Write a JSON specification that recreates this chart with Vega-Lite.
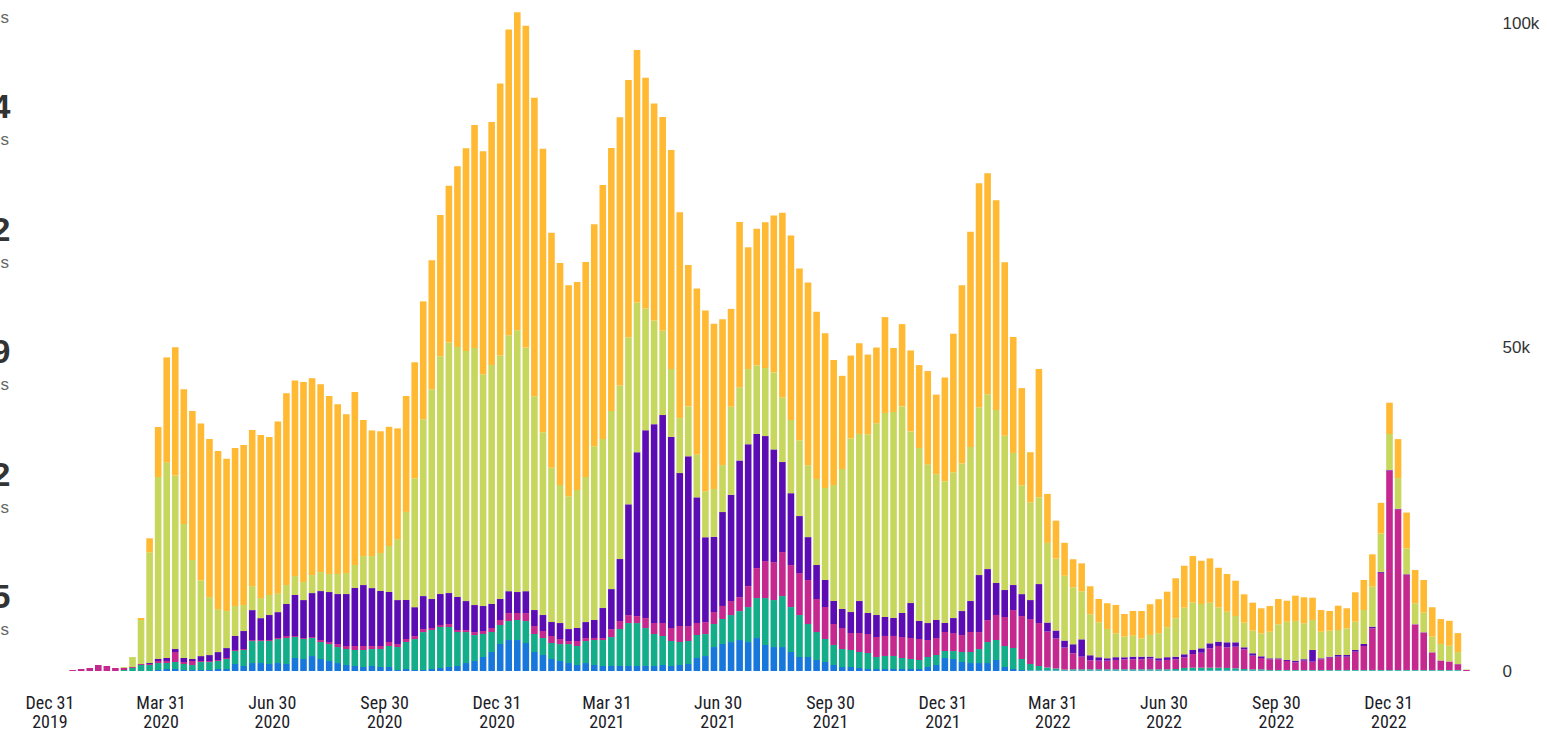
{
"$schema":"https://vega.github.io/schema/vega-lite/v6.json",
"width":1460,"height":662,
"autosize":{"type":"none"},
"padding":{"left":20,"top":9,"right":67,"bottom":63},
"background":"white",
"config":{"view":{"stroke":null},"axis":{"grid":false}},
"resolve":{"scale":{"y":"independent"}},
"layer":[
{
"data":{"values":[
{"week":"2020-01-19","AFR":0,"EMR":0,"WPR":0.15,"SEAR":0,"EUR":0,"AMR":0},
{"week":"2020-01-26","AFR":0,"EMR":0,"WPR":0.31,"SEAR":0,"EUR":0,"AMR":0},
{"week":"2020-02-02","AFR":0,"EMR":0,"WPR":0.46,"SEAR":0,"EUR":0,"AMR":0},
{"week":"2020-02-09","AFR":0,"EMR":0,"WPR":0.93,"SEAR":0,"EUR":0,"AMR":0},
{"week":"2020-02-16","AFR":0,"EMR":0,"WPR":0.77,"SEAR":0,"EUR":0,"AMR":0},
{"week":"2020-02-23","AFR":0,"EMR":0,"WPR":0.46,"SEAR":0,"EUR":0,"AMR":0},
{"week":"2020-03-01","AFR":0,"EMR":0.15,"WPR":0.31,"SEAR":0,"EUR":0.15,"AMR":0},
{"week":"2020-03-08","AFR":0,"EMR":0.46,"WPR":0.15,"SEAR":0,"EUR":1.54,"AMR":0},
{"week":"2020-03-15","AFR":0,"EMR":0.93,"WPR":0.15,"SEAR":0,"EUR":6.79,"AMR":0.31},
{"week":"2020-03-22","AFR":0,"EMR":0.93,"WPR":0.15,"SEAR":0.15,"EUR":17.1,"AMR":2.16},
{"week":"2020-03-29","AFR":0.15,"EMR":1.08,"WPR":0.31,"SEAR":0.31,"EUR":28.1,"AMR":7.72},
{"week":"2020-04-05","AFR":0.31,"EMR":0.93,"WPR":0.31,"SEAR":0.46,"EUR":30.2,"AMR":16.2},
{"week":"2020-04-12","AFR":0.31,"EMR":1.08,"WPR":1.54,"SEAR":0.46,"EUR":26.8,"AMR":19.8},
{"week":"2020-04-19","AFR":0.15,"EMR":0.93,"WPR":0.31,"SEAR":0.62,"EUR":20.7,"AMR":20.8},
{"week":"2020-04-26","AFR":0.15,"EMR":0.77,"WPR":0.62,"SEAR":0.31,"EUR":15.3,"AMR":23.0},
{"week":"2020-05-03","AFR":0.15,"EMR":1.23,"WPR":0.15,"SEAR":0.77,"EUR":11.7,"AMR":24.2},
{"week":"2020-05-10","AFR":0.15,"EMR":1.23,"WPR":0.15,"SEAR":0.93,"EUR":8.95,"AMR":24.4},
{"week":"2020-05-17","AFR":0.31,"EMR":1.23,"WPR":0.15,"SEAR":1.23,"EUR":6.63,"AMR":24.4},
{"week":"2020-05-24","AFR":0.31,"EMR":1.54,"WPR":0.15,"SEAR":1.54,"EUR":5.71,"AMR":23.5},
{"week":"2020-05-31","AFR":1.08,"EMR":2.01,"WPR":0.15,"SEAR":2.16,"EUR":4.63,"AMR":24.4},
{"week":"2020-06-07","AFR":0.77,"EMR":2.47,"WPR":0.15,"SEAR":2.78,"EUR":4.01,"AMR":24.7},
{"week":"2020-06-14","AFR":1.23,"EMR":3.39,"WPR":0.15,"SEAR":4.63,"EUR":3.70,"AMR":24.1},
{"week":"2020-06-21","AFR":1.23,"EMR":3.39,"WPR":0.15,"SEAR":3.39,"EUR":3.09,"AMR":25.2},
{"week":"2020-06-28","AFR":1.08,"EMR":3.55,"WPR":0.15,"SEAR":3.86,"EUR":3.09,"AMR":24.4},
{"week":"2020-07-05","AFR":1.23,"EMR":3.70,"WPR":0.15,"SEAR":4.01,"EUR":2.93,"AMR":26.5},
{"week":"2020-07-12","AFR":1.08,"EMR":4.01,"WPR":0.31,"SEAR":4.94,"EUR":2.93,"AMR":29.6},
{"week":"2020-07-19","AFR":2.01,"EMR":3.24,"WPR":0.15,"SEAR":6.33,"EUR":2.93,"AMR":30.2},
{"week":"2020-07-26","AFR":1.85,"EMR":3.09,"WPR":0.15,"SEAR":5.86,"EUR":2.78,"AMR":30.9},
{"week":"2020-08-02","AFR":2.31,"EMR":2.78,"WPR":0.15,"SEAR":6.79,"EUR":2.78,"AMR":30.4},
{"week":"2020-08-09","AFR":1.85,"EMR":2.62,"WPR":0.31,"SEAR":7.56,"EUR":2.93,"AMR":29.0},
{"week":"2020-08-16","AFR":1.54,"EMR":2.62,"WPR":0.31,"SEAR":7.72,"EUR":2.78,"AMR":27.5},
{"week":"2020-08-23","AFR":1.23,"EMR":2.47,"WPR":0.46,"SEAR":7.72,"EUR":3.09,"AMR":26.2},
{"week":"2020-08-30","AFR":0.93,"EMR":2.47,"WPR":0.46,"SEAR":8.02,"EUR":3.24,"AMR":24.5},
{"week":"2020-09-06","AFR":0.77,"EMR":2.47,"WPR":0.62,"SEAR":8.95,"EUR":3.55,"AMR":26.7},
{"week":"2020-09-13","AFR":0.62,"EMR":2.62,"WPR":0.62,"SEAR":9.41,"EUR":4.47,"AMR":21.0},
{"week":"2020-09-20","AFR":0.77,"EMR":2.62,"WPR":0.46,"SEAR":8.95,"EUR":4.94,"AMR":19.4},
{"week":"2020-09-27","AFR":0.62,"EMR":2.78,"WPR":0.46,"SEAR":8.49,"EUR":5.86,"AMR":18.8},
{"week":"2020-10-04","AFR":0.62,"EMR":3.24,"WPR":0.62,"SEAR":7.72,"EUR":7.10,"AMR":18.4},
{"week":"2020-10-11","AFR":0.15,"EMR":3.55,"WPR":0.46,"SEAR":6.79,"EUR":9.41,"AMR":17.1},
{"week":"2020-10-18","AFR":0.31,"EMR":4.17,"WPR":0.46,"SEAR":6.02,"EUR":13.6,"AMR":17.9},
{"week":"2020-10-25","AFR":0.15,"EMR":4.78,"WPR":0.46,"SEAR":4.47,"EUR":19.9,"AMR":17.9},
{"week":"2020-11-01","AFR":0.15,"EMR":5.86,"WPR":0.46,"SEAR":5.09,"EUR":27.3,"AMR":18.2},
{"week":"2020-11-08","AFR":0.31,"EMR":6.02,"WPR":0.31,"SEAR":4.47,"EUR":32.4,"AMR":19.9},
{"week":"2020-11-15","AFR":0.46,"EMR":6.33,"WPR":0.31,"SEAR":4.78,"EUR":36.7,"AMR":21.8},
{"week":"2020-11-22","AFR":0.62,"EMR":6.17,"WPR":0.46,"SEAR":4.78,"EUR":38.7,"AMR":24.2},
{"week":"2020-11-29","AFR":0.77,"EMR":5.25,"WPR":0.31,"SEAR":5.09,"EUR":38.6,"AMR":27.9},
{"week":"2020-12-06","AFR":1.23,"EMR":4.78,"WPR":0.31,"SEAR":4.47,"EUR":38.6,"AMR":31.3},
{"week":"2020-12-13","AFR":1.54,"EMR":4.01,"WPR":0.46,"SEAR":4.17,"EUR":39.7,"AMR":34.4},
{"week":"2020-12-20","AFR":2.16,"EMR":3.55,"WPR":0.46,"SEAR":3.86,"EUR":35.8,"AMR":34.4},
{"week":"2020-12-27","AFR":2.93,"EMR":3.09,"WPR":0.62,"SEAR":3.70,"EUR":36.9,"AMR":37.5},
{"week":"2021-01-03","AFR":4.17,"EMR":2.93,"WPR":0.77,"SEAR":3.24,"EUR":37.6,"AMR":42.0},
{"week":"2021-01-10","AFR":4.78,"EMR":2.93,"WPR":1.23,"SEAR":3.39,"EUR":39.5,"AMR":47.2},
{"week":"2021-01-17","AFR":4.78,"EMR":3.09,"WPR":1.08,"SEAR":3.24,"EUR":40.4,"AMR":49.1},
{"week":"2021-01-24","AFR":4.32,"EMR":3.39,"WPR":1.23,"SEAR":3.39,"EUR":37.6,"AMR":49.7},
{"week":"2021-01-31","AFR":2.93,"EMR":2.78,"WPR":1.23,"SEAR":2.47,"EUR":33.0,"AMR":46.1},
{"week":"2021-02-07","AFR":2.47,"EMR":2.62,"WPR":1.08,"SEAR":2.47,"EUR":28.2,"AMR":43.8},
{"week":"2021-02-14","AFR":1.85,"EMR":2.47,"WPR":1.08,"SEAR":2.16,"EUR":23.8,"AMR":36.3},
{"week":"2021-02-21","AFR":1.54,"EMR":2.62,"WPR":0.77,"SEAR":2.47,"EUR":21.3,"AMR":34.3},
{"week":"2021-02-28","AFR":1.23,"EMR":2.93,"WPR":0.46,"SEAR":1.85,"EUR":20.5,"AMR":32.6},
{"week":"2021-03-07","AFR":0.93,"EMR":2.93,"WPR":0.77,"SEAR":2.01,"EUR":21.3,"AMR":32.1},
{"week":"2021-03-14","AFR":1.23,"EMR":3.39,"WPR":0.46,"SEAR":2.47,"EUR":22.4,"AMR":33.2},
{"week":"2021-03-21","AFR":0.93,"EMR":3.86,"WPR":0.31,"SEAR":2.78,"EUR":26.8,"AMR":34.3},
{"week":"2021-03-28","AFR":0.77,"EMR":4.01,"WPR":0.31,"SEAR":4.63,"EUR":26.1,"AMR":39.2},
{"week":"2021-04-04","AFR":0.77,"EMR":4.47,"WPR":1.23,"SEAR":6.17,"EUR":27.5,"AMR":40.6},
{"week":"2021-04-11","AFR":0.77,"EMR":5.71,"WPR":1.23,"SEAR":9.57,"EUR":26.8,"AMR":41.4},
{"week":"2021-04-18","AFR":0.77,"EMR":6.63,"WPR":1.23,"SEAR":17.1,"EUR":25.8,"AMR":39.7},
{"week":"2021-04-25","AFR":0.77,"EMR":6.63,"WPR":1.08,"SEAR":25.3,"EUR":23.1,"AMR":39.0},
{"week":"2021-05-02","AFR":0.77,"EMR":5.86,"WPR":1.54,"SEAR":29.0,"EUR":18.8,"AMR":35.6},
{"week":"2021-05-09","AFR":0.77,"EMR":4.94,"WPR":1.70,"SEAR":30.7,"EUR":16.0,"AMR":33.5},
{"week":"2021-05-16","AFR":0.93,"EMR":4.47,"WPR":2.01,"SEAR":32.1,"EUR":13.0,"AMR":33.0},
{"week":"2021-05-23","AFR":0.77,"EMR":3.86,"WPR":2.01,"SEAR":29.5,"EUR":10.5,"AMR":33.8},
{"week":"2021-05-30","AFR":0.93,"EMR":3.55,"WPR":2.47,"SEAR":23.6,"EUR":8.49,"AMR":31.8},
{"week":"2021-06-06","AFR":1.08,"EMR":3.55,"WPR":2.31,"SEAR":26.2,"EUR":7.72,"AMR":21.8},
{"week":"2021-06-13","AFR":2.01,"EMR":3.55,"WPR":1.85,"SEAR":19.4,"EUR":6.63,"AMR":25.6},
{"week":"2021-06-20","AFR":2.31,"EMR":3.39,"WPR":1.85,"SEAR":13.1,"EUR":7.10,"AMR":27.9},
{"week":"2021-06-27","AFR":3.70,"EMR":3.55,"WPR":1.85,"SEAR":11.6,"EUR":7.41,"AMR":25.5},
{"week":"2021-07-04","AFR":4.17,"EMR":3.86,"WPR":2.01,"SEAR":14.5,"EUR":7.25,"AMR":22.5},
{"week":"2021-07-11","AFR":4.47,"EMR":4.17,"WPR":2.16,"SEAR":16.4,"EUR":13.6,"AMR":15.1},
{"week":"2021-07-18","AFR":4.78,"EMR":4.47,"WPR":2.16,"SEAR":21.1,"EUR":11.3,"AMR":25.5},
{"week":"2021-07-25","AFR":4.47,"EMR":5.40,"WPR":3.24,"SEAR":21.9,"EUR":11.6,"AMR":18.8},
{"week":"2021-08-01","AFR":5.09,"EMR":6.17,"WPR":4.63,"SEAR":20.7,"EUR":10.6,"AMR":21.1},
{"week":"2021-08-08","AFR":4.01,"EMR":7.25,"WPR":5.71,"SEAR":19.3,"EUR":10.5,"AMR":22.5},
{"week":"2021-08-15","AFR":3.70,"EMR":7.25,"WPR":5.86,"SEAR":17.4,"EUR":11.9,"AMR":24.2},
{"week":"2021-08-22","AFR":3.70,"EMR":7.87,"WPR":6.79,"SEAR":13.9,"EUR":10.0,"AMR":28.5},
{"week":"2021-08-29","AFR":2.93,"EMR":6.94,"WPR":6.48,"SEAR":11.1,"EUR":11.3,"AMR":28.5},
{"week":"2021-09-05","AFR":2.16,"EMR":6.48,"WPR":6.48,"SEAR":8.80,"EUR":11.7,"AMR":26.5},
{"week":"2021-09-12","AFR":2.16,"EMR":5.09,"WPR":6.79,"SEAR":6.63,"EUR":11.1,"AMR":28.2},
{"week":"2021-09-19","AFR":1.70,"EMR":4.32,"WPR":5.09,"SEAR":5.25,"EUR":13.3,"AMR":25.8},
{"week":"2021-09-26","AFR":1.39,"EMR":3.55,"WPR":4.94,"SEAR":4.17,"EUR":14.2,"AMR":23.9},
{"week":"2021-10-03","AFR":0.93,"EMR":3.09,"WPR":3.24,"SEAR":3.55,"EUR":17.9,"AMR":19.3},
{"week":"2021-10-10","AFR":0.62,"EMR":2.78,"WPR":3.24,"SEAR":2.93,"EUR":21.6,"AMR":14.4},
{"week":"2021-10-17","AFR":0.62,"EMR":2.62,"WPR":2.62,"SEAR":3.24,"EUR":26.8,"AMR":12.8},
{"week":"2021-10-24","AFR":0.46,"EMR":2.47,"WPR":2.93,"SEAR":4.94,"EUR":25.8,"AMR":14.0},
{"week":"2021-10-31","AFR":0.31,"EMR":2.47,"WPR":2.93,"SEAR":3.24,"EUR":27.6,"AMR":12.3},
{"week":"2021-11-07","AFR":0.31,"EMR":1.85,"WPR":3.09,"SEAR":3.39,"EUR":29.6,"AMR":11.7},
{"week":"2021-11-14","AFR":0.31,"EMR":2.01,"WPR":3.09,"SEAR":2.93,"EUR":31.5,"AMR":14.8},
{"week":"2021-11-21","AFR":0.31,"EMR":2.01,"WPR":3.09,"SEAR":2.78,"EUR":31.8,"AMR":9.88},
{"week":"2021-11-28","AFR":0.31,"EMR":1.70,"WPR":3.24,"SEAR":3.70,"EUR":31.9,"AMR":12.7},
{"week":"2021-12-05","AFR":0.31,"EMR":1.54,"WPR":3.24,"SEAR":5.40,"EUR":26.5,"AMR":12.5},
{"week":"2021-12-12","AFR":0.31,"EMR":1.39,"WPR":3.24,"SEAR":2.78,"EUR":26.7,"AMR":12.8},
{"week":"2021-12-19","AFR":0.62,"EMR":1.54,"WPR":2.62,"SEAR":2.62,"EUR":24.5,"AMR":14.4},
{"week":"2021-12-26","AFR":0.93,"EMR":1.54,"WPR":2.62,"SEAR":2.78,"EUR":22.5,"AMR":12.3},
{"week":"2022-01-02","AFR":2.01,"EMR":1.08,"WPR":2.93,"SEAR":1.39,"EUR":21.9,"AMR":16.0},
{"week":"2022-01-09","AFR":1.85,"EMR":1.23,"WPR":2.78,"SEAR":2.31,"EUR":22.5,"AMR":21.4},
{"week":"2022-01-16","AFR":1.39,"EMR":1.54,"WPR":2.62,"SEAR":3.70,"EUR":22.8,"AMR":27.5},
{"week":"2022-01-23","AFR":1.23,"EMR":1.70,"WPR":3.09,"SEAR":4.78,"EUR":23.8,"AMR":33.2},
{"week":"2022-01-30","AFR":1.23,"EMR":2.16,"WPR":2.62,"SEAR":8.80,"EUR":25.9,"AMR":34.6},
{"week":"2022-02-06","AFR":1.23,"EMR":3.24,"WPR":3.39,"SEAR":7.87,"EUR":27.0,"AMR":34.1},
{"week":"2022-02-13","AFR":1.70,"EMR":3.09,"WPR":3.86,"SEAR":4.94,"EUR":26.7,"AMR":32.4},
{"week":"2022-02-20","AFR":0.62,"EMR":3.24,"WPR":4.47,"SEAR":4.17,"EUR":23.8,"AMR":26.8},
{"week":"2022-02-27","AFR":0.31,"EMR":3.24,"WPR":5.86,"SEAR":3.86,"EUR":20.4,"AMR":17.9},
{"week":"2022-03-06","AFR":0.15,"EMR":1.70,"WPR":6.63,"SEAR":3.39,"EUR":16.8,"AMR":15.0},
{"week":"2022-03-13","AFR":0.08,"EMR":1.00,"WPR":6.94,"SEAR":2.93,"EUR":15.1,"AMR":7.72},
{"week":"2022-03-20","AFR":0.08,"EMR":0.69,"WPR":6.63,"SEAR":6.02,"EUR":13.4,"AMR":19.8},
{"week":"2022-03-27","AFR":0.08,"EMR":0.46,"WPR":5.55,"SEAR":1.39,"EUR":12.3,"AMR":7.56},
{"week":"2022-04-03","AFR":0.08,"EMR":0.31,"WPR":4.63,"SEAR":1.23,"EUR":11.1,"AMR":5.86},
{"week":"2022-04-10","AFR":0.08,"EMR":0.15,"WPR":3.39,"SEAR":1.08,"EUR":10.0,"AMR":5.09},
{"week":"2022-04-17","AFR":0.08,"EMR":0.19,"WPR":2.47,"SEAR":1.39,"EUR":8.80,"AMR":4.32},
{"week":"2022-04-24","AFR":0.08,"EMR":0.19,"WPR":1.94,"SEAR":2.68,"EUR":7.41,"AMR":4.32},
{"week":"2022-05-01","AFR":0.08,"EMR":0.19,"WPR":1.39,"SEAR":0.77,"EUR":6.33,"AMR":4.32},
{"week":"2022-05-08","AFR":0.08,"EMR":0.19,"WPR":1.33,"SEAR":0.52,"EUR":5.40,"AMR":3.60},
{"week":"2022-05-15","AFR":0.08,"EMR":0.19,"WPR":1.33,"SEAR":0.37,"EUR":4.52,"AMR":3.97},
{"week":"2022-05-22","AFR":0.08,"EMR":0.19,"WPR":1.44,"SEAR":0.42,"EUR":3.70,"AMR":4.37},
{"week":"2022-05-29","AFR":0.08,"EMR":0.19,"WPR":1.54,"SEAR":0.31,"EUR":3.18,"AMR":3.50},
{"week":"2022-06-05","AFR":0.08,"EMR":0.19,"WPR":1.54,"SEAR":0.40,"EUR":3.24,"AMR":3.81},
{"week":"2022-06-12","AFR":0.08,"EMR":0.19,"WPR":1.54,"SEAR":0.40,"EUR":2.84,"AMR":4.21},
{"week":"2022-06-19","AFR":0.08,"EMR":0.19,"WPR":1.64,"SEAR":0.31,"EUR":3.35,"AMR":4.74},
{"week":"2022-06-26","AFR":0.08,"EMR":0.19,"WPR":1.33,"SEAR":0.37,"EUR":3.86,"AMR":5.25},
{"week":"2022-07-03","AFR":0.08,"EMR":0.19,"WPR":1.44,"SEAR":0.42,"EUR":4.63,"AMR":5.49},
{"week":"2022-07-10","AFR":0.08,"EMR":0.23,"WPR":1.50,"SEAR":0.40,"EUR":5.93,"AMR":6.17},
{"week":"2022-07-17","AFR":0.08,"EMR":0.39,"WPR":1.65,"SEAR":0.46,"EUR":7.19,"AMR":6.48},
{"week":"2022-07-24","AFR":0.08,"EMR":0.43,"WPR":2.11,"SEAR":0.62,"EUR":7.36,"AMR":7.14},
{"week":"2022-07-31","AFR":0.08,"EMR":0.43,"WPR":2.31,"SEAR":0.68,"EUR":6.84,"AMR":6.68},
{"week":"2022-08-07","AFR":0.08,"EMR":0.43,"WPR":2.99,"SEAR":0.77,"EUR":6.26,"AMR":6.85},
{"week":"2022-08-14","AFR":0.08,"EMR":0.43,"WPR":3.35,"SEAR":0.66,"EUR":5.31,"AMR":6.11},
{"week":"2022-08-21","AFR":0.08,"EMR":0.39,"WPR":3.19,"SEAR":0.77,"EUR":4.72,"AMR":5.82},
{"week":"2022-08-28","AFR":0.08,"EMR":0.34,"WPR":3.33,"SEAR":0.68,"EUR":4.06,"AMR":5.45},
{"week":"2022-09-04","AFR":0.08,"EMR":0.23,"WPR":3.04,"SEAR":0.31,"EUR":3.80,"AMR":4.38},
{"week":"2022-09-11","AFR":0.08,"EMR":0.19,"WPR":2.10,"SEAR":0.37,"EUR":3.49,"AMR":4.32},
{"week":"2022-09-18","AFR":0.08,"EMR":0.19,"WPR":1.74,"SEAR":0.26,"EUR":3.55,"AMR":3.86},
{"week":"2022-09-25","AFR":0.05,"EMR":0.11,"WPR":1.65,"SEAR":0.15,"EUR":4.10,"AMR":3.97},
{"week":"2022-10-02","AFR":0.05,"EMR":0.11,"WPR":1.65,"SEAR":0.15,"EUR":5.25,"AMR":3.90},
{"week":"2022-10-09","AFR":0.05,"EMR":0.11,"WPR":1.39,"SEAR":0.15,"EUR":5.91,"AMR":3.24},
{"week":"2022-10-16","AFR":0.05,"EMR":0.11,"WPR":1.19,"SEAR":0.25,"EUR":6.13,"AMR":3.90},
{"week":"2022-10-23","AFR":0.05,"EMR":0.11,"WPR":1.44,"SEAR":0.22,"EUR":5.55,"AMR":4.01},
{"week":"2022-10-30","AFR":0.05,"EMR":0.11,"WPR":1.28,"SEAR":1.81,"EUR":4.63,"AMR":3.44},
{"week":"2022-11-06","AFR":0.05,"EMR":0.11,"WPR":1.65,"SEAR":0.15,"EUR":4.10,"AMR":3.35},
{"week":"2022-11-13","AFR":0.05,"EMR":0.11,"WPR":1.90,"SEAR":0.15,"EUR":4.01,"AMR":3.04},
{"week":"2022-11-20","AFR":0.05,"EMR":0.11,"WPR":2.05,"SEAR":0.26,"EUR":3.86,"AMR":3.75},
{"week":"2022-11-27","AFR":0.05,"EMR":0.11,"WPR":2.05,"SEAR":0.26,"EUR":4.12,"AMR":3.09},
{"week":"2022-12-04","AFR":0.05,"EMR":0.11,"WPR":2.82,"SEAR":0.26,"EUR":4.37,"AMR":4.54},
{"week":"2022-12-11","AFR":0.05,"EMR":0.11,"WPR":3.70,"SEAR":0.31,"EUR":5.25,"AMR":4.63},
{"week":"2022-12-18","AFR":0.05,"EMR":0.11,"WPR":6.43,"SEAR":0.25,"EUR":6.17,"AMR":5.00},
{"week":"2022-12-25","AFR":0.05,"EMR":0.11,"WPR":15.0,"SEAR":0.15,"EUR":5.93,"AMR":4.72},
{"week":"2023-01-01","AFR":0.05,"EMR":0.11,"WPR":30.8,"SEAR":0.08,"EUR":5.55,"AMR":4.83},
{"week":"2023-01-08","AFR":0.05,"EMR":0.11,"WPR":24.8,"SEAR":0.08,"EUR":4.74,"AMR":6.02},
{"week":"2023-01-15","AFR":0.05,"EMR":0.11,"WPR":14.7,"SEAR":0.08,"EUR":3.97,"AMR":5.55},
{"week":"2023-01-22","AFR":0.05,"EMR":0.11,"WPR":7.01,"SEAR":0.05,"EUR":3.24,"AMR":5.14},
{"week":"2023-01-29","AFR":0.05,"EMR":0.11,"WPR":5.77,"SEAR":0.05,"EUR":3.02,"AMR":5.05},
{"week":"2023-02-05","AFR":0.05,"EMR":0.11,"WPR":2.70,"SEAR":0.03,"EUR":2.41,"AMR":4.54},
{"week":"2023-02-12","AFR":0.05,"EMR":0.11,"WPR":1.44,"SEAR":0.03,"EUR":2.53,"AMR":3.86},
{"week":"2023-02-19","AFR":0.05,"EMR":0.11,"WPR":1.28,"SEAR":0.03,"EUR":2.42,"AMR":3.86},
{"week":"2023-02-26","AFR":0.05,"EMR":0.11,"WPR":0.88,"SEAR":0.03,"EUR":1.85,"AMR":2.93},
{"week":"2023-03-05","AFR":0,"EMR":0,"WPR":0.15,"SEAR":0,"EUR":0.08,"AMR":0}
]},
"transform":[
{"fold":["AFR","EMR","WPR","SEAR","EUR","AMR"],"as":["region","deaths_thousands"]},
{"calculate":"indexof(['AFR','EMR','WPR','SEAR','EUR','AMR'], datum.region)","as":"stack_rank"}
],
"mark":{"type":"bar","size":6.6},
"encoding":{
"x":{"field":"week","type":"temporal",
"scale":{"type":"utc","domain":[{"year":2019,"month":12,"date":11,"utc":true},{"year":2023,"month":3,"date":12,"utc":true}]},
"axis":{"orient":"bottom","title":null,"domain":false,"ticks":false,"grid":false,
"values":[{"year":2019,"month":12,"date":31,"utc":true},{"year":2020,"month":3,"date":31,"utc":true},{"year":2020,"month":6,"date":30,"utc":true},{"year":2020,"month":9,"date":30,"utc":true},{"year":2020,"month":12,"date":31,"utc":true},{"year":2021,"month":3,"date":31,"utc":true},{"year":2021,"month":6,"date":30,"utc":true},{"year":2021,"month":9,"date":30,"utc":true},{"year":2021,"month":12,"date":31,"utc":true},{"year":2022,"month":3,"date":31,"utc":true},{"year":2022,"month":6,"date":30,"utc":true},{"year":2022,"month":9,"date":30,"utc":true},{"year":2022,"month":12,"date":31,"utc":true}],
"labelExpr":"[utcFormat(datum.value,'%b %d'), utcFormat(datum.value,'%Y')]",
"labelFont":"Liberation Sans Narrow, Arial Narrow, Roboto Condensed, sans-serif","labelFontSize":18,"labelLineHeight":19,"labelColor":"#1c1c28","labelPadding":23,"labelOverlap":false,"labelFlush":false,"labelBound":false}},
"y":{"field":"deaths_thousands","type":"quantitative","stack":"zero",
"scale":{"domain":[0,102.2],"nice":false},
"axis":{"orient":"right","title":null,"values":[0,50,100],"labelExpr":"datum.value == 0 ? '0' : datum.value + 'k'","domain":false,"ticks":false,"grid":false,"labelPadding":22,"labelFontSize":17,"labelColor":"#333333","labelFont":"Liberation Sans, Arial, sans-serif","labelFlush":false}},
"color":{"field":"region","type":"nominal","sort":["AFR","EMR","WPR","SEAR","EUR","AMR"],
"scale":{"domain":["AFR","EMR","WPR","SEAR","EUR","AMR"],"range":["#1877DB","#13AD8A","#C5288F","#5B0CB3","#C7D65C","#FFB933"]},"legend":null},
"order":{"field":"stack_rank","type":"quantitative","sort":"ascending"}
}
},
{
"data":{"values":[
{"slot":1,"word":"deaths"},
{"slot":2,"tail":"4","word":"deaths"},
{"slot":3,"tail":"2","word":"deaths"},
{"slot":4,"tail":"9","word":"deaths"},
{"slot":5,"tail":"2","word":"deaths"},
{"slot":6,"tail":"5","word":"deaths"}
]},
"layer":[
{"mark":{"type":"text","align":"right","baseline":"middle","fontSize":17,"color":"#666666","font":"Liberation Sans, Arial, sans-serif"},
"encoding":{
"x":{"datum":{"year":2019,"month":11,"date":28,"utc":true},"type":"temporal"},
"y":{"field":"slot","type":"quantitative","scale":{"domain":[0.9265,6.335],"reverse":true,"nice":false,"zero":false},"axis":null},
"text":{"field":"word"}}},
{"mark":{"type":"text","align":"right","baseline":"middle","dy":-32,"fontSize":34,"fontWeight":"bold","color":"#333333","font":"Liberation Sans, Arial, sans-serif"},
"encoding":{
"x":{"datum":{"year":2019,"month":11,"date":29,"utc":true},"type":"temporal"},
"y":{"field":"slot","type":"quantitative","scale":{"domain":[0.9265,6.335],"reverse":true,"nice":false,"zero":false},"axis":null},
"text":{"field":"tail"}}}
]
}
]
}
